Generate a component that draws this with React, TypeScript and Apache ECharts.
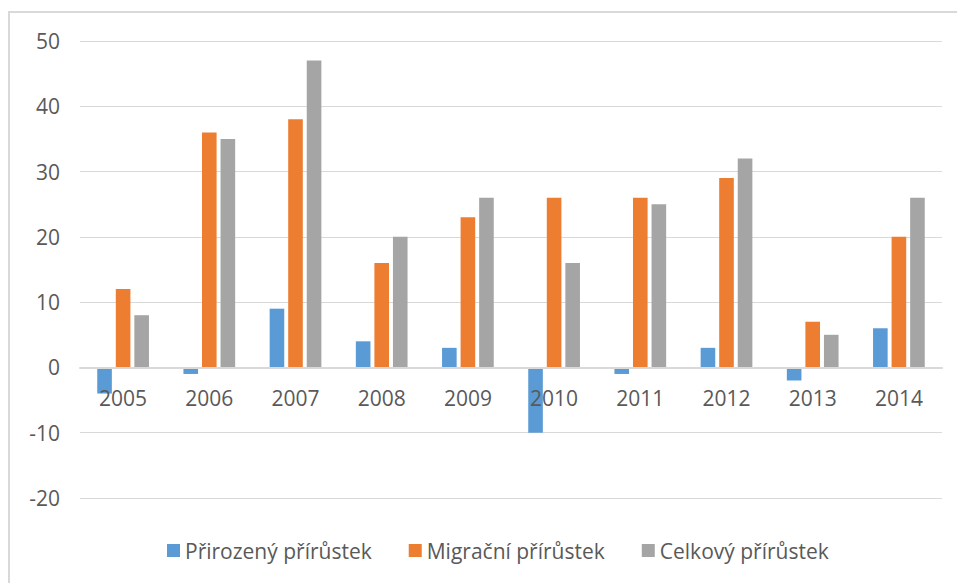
import React, { useEffect, useRef } from "react";
import * as echarts from "echarts";

const years = ["2005", "2006", "2007", "2008", "2009", "2010", "2011", "2012", "2013", "2014"];
const natural = [-4, -1, 9, 4, 3, -10, -1, 3, -2, 6];
const migration = [12, 36, 38, 16, 23, 26, 26, 29, 7, 20];
const total = [8, 35, 47, 20, 26, 16, 25, 32, 5, 26];
const seriesNames = ["Přirozený přírůstek", "Migrační přírůstek", "Celkový přírůstek"];
const colors = ["#5B9BD5", "#ED7D31", "#A5A5A5"];
const yMin = -20;
const yMax = 50;

export default function App() {
  const ref = useRef<HTMLDivElement>(null);
  useEffect(() => {
    if (!ref.current) return;
    const chart = echarts.init(ref.current, null, { renderer: "svg" });
    const font = "'Open Sans', 'Noto Sans', sans-serif";
    const gridTop = 41;
    const gridBottom = 85;
    const plotH = 583 - gridTop - gridBottom;
    // distance from bottom of plot to zero line
    const zeroOffset = -(plotH * (0 - yMin)) / (yMax - yMin);
    chart.setOption({
      animation: false,
      backgroundColor: "#ffffff",
      color: colors,
      textStyle: { fontFamily: font },
      graphic: [
        {
          type: "rect",
          shape: { x: 9, y: 12, width: 1000, height: 700 },
          style: { fill: "none", stroke: "#d9d9d9", lineWidth: 2 },
          silent: true,
        },
      ],
      grid: { left: 80, right: 15, top: gridTop, bottom: gridBottom },
      legend: {
        left: 162,
        top: 535,
        itemWidth: 13,
        itemHeight: 13,
        itemGap: 37,
        icon: "rect",
        textStyle: { color: "#595959", fontSize: 21, fontFamily: font },
        data: seriesNames,
      },
      xAxis: {
        type: "category",
        data: years,
        position: "bottom",
        offset: zeroOffset,
        z: 5,
        axisTick: { show: false },
        axisLine: { onZero: false, lineStyle: { color: "#d9d9d9", width: 2 } },
        axisLabel: { color: "#595959", fontSize: 21, margin: 20, fontFamily: font },
      },
      yAxis: {
        type: "value",
        min: yMin,
        max: yMax,
        interval: 10,
        axisLine: { show: false },
        axisTick: { show: false },
        splitLine: { lineStyle: { color: "#d9d9d9", width: 1 } },
        axisLabel: { color: "#595959", fontSize: 21, margin: 20, fontFamily: font },
      },
      series: [
        { name: seriesNames[0], type: "bar", data: natural, barGap: "27%", barCategoryGap: "40%" },
        { name: seriesNames[1], type: "bar", data: migration, barGap: "27%", barCategoryGap: "40%" },
        { name: seriesNames[2], type: "bar", data: total, barGap: "27%", barCategoryGap: "40%" },
      ],
    });
    return () => chart.dispose();
  }, []);
  return (
    <div
      ref={ref}
      style={{ position: "fixed", left: 0, top: 0, width: 957, height: 583 }}
    />
  );
}
